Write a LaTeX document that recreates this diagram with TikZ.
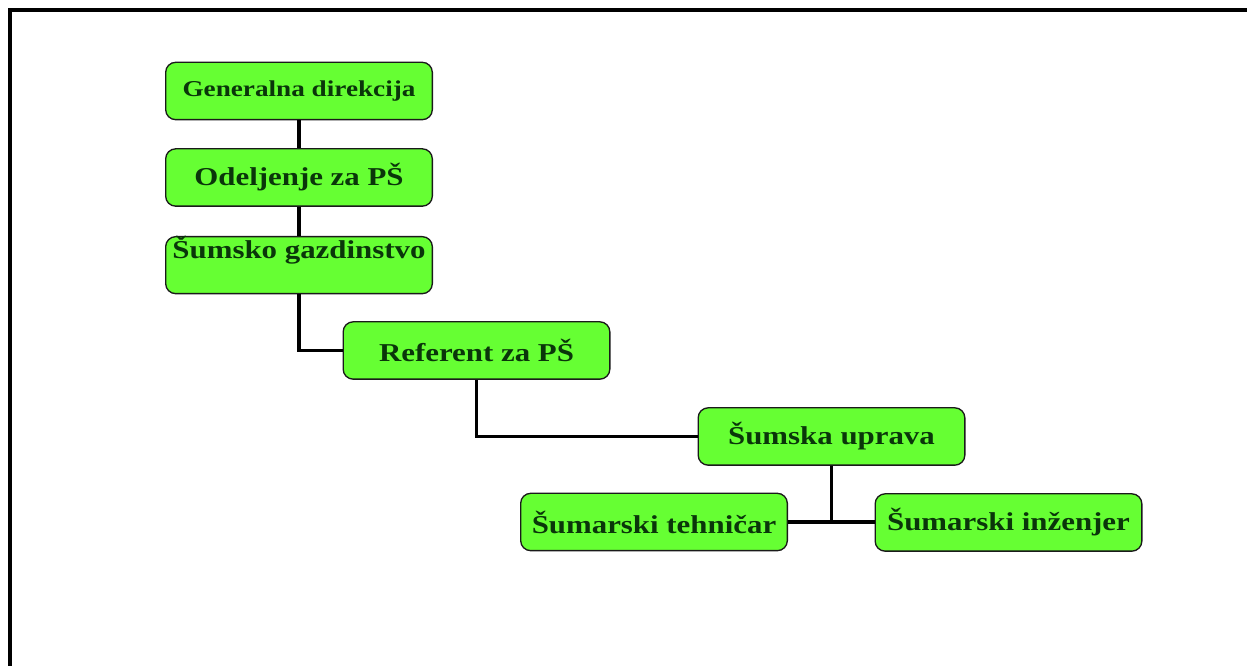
\documentclass[tikz,border=0pt]{standalone}
\usepackage{fontspec}
\newfontfamily\boxfont[FakeStretch=1.2]{Liberation Serif}
\definecolor{boxgreen}{HTML}{66FF33}
\definecolor{txtgreen}{HTML}{0A360A}
\definecolor{boxedge}{HTML}{1A1A1A}
\begin{document}
\begin{tikzpicture}[x=0.75pt,y=-0.75pt,
  orgbox/.style={draw=boxedge, line width=1pt, fill=boxgreen, rounded corners=7.5pt,
    minimum width=200pt, minimum height=43pt, inner sep=0pt, text=txtgreen,
    font=\boxfont\bfseries\fontsize{19.3}{23}\selectfont},
  link/.style={line width=2.8pt, black}]
\useasboundingbox (0,0) rectangle (1247,666);
\draw[line width=2.8pt] (10,666) -- (10,10) -- (1247,10);
\node[orgbox, font=\boxfont\bfseries\fontsize{17}{20}\selectfont] (gd) at (299,91) {Generalna direkcija};
\node[orgbox] (od) at (299,177.5) {Odeljenje za PŠ};
\node[orgbox, anchor=north, minimum height=0pt, text height=16.5pt, text depth=26.25pt] (sg) at (299,236) {Šumsko gazdinstvo};
\node[orgbox] (rf) at (476.5,350.5) {Referent za PŠ};
\node[orgbox] (su) at (831.5,436.5) {Šumska uprava};
\node[orgbox] (st) at (654,522) {Šumarski tehničar};
\node[orgbox] (si) at (1008.5,522.5) {Šumarski inženjer};
\coordinate (j) at (su.south |- st.east);
\draw[link] (gd.south) -- (od.north);
\draw[link] (od.south) -- (sg.north);
\draw[link] (sg.south) |- (rf.west);
\draw[link] (rf.south) |- (su.west);
\draw[link] (su.south) -- (j);
\draw[link] (st.east) -- (j) -- (si.west |- j);
\end{tikzpicture}
\end{document}
